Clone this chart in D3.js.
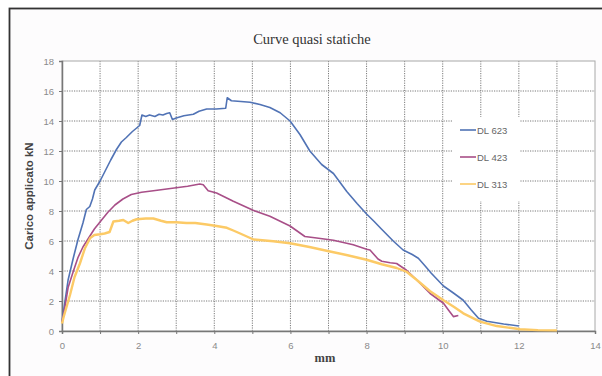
<!DOCTYPE html>
<html>
<head>
<meta charset="utf-8">
<script src="https://cdn.jsdelivr.net/npm/d3@7"></script>
<style>
  body { margin: 0; background: #fff; }
  svg { display: block; }
</style>
</head>
<body>
<svg id="chart" width="602" height="376"></svg>
<script>
// series data: [mm, kN]
const dl623 = [[0,0.6],[0.05,1.5],[0.16,3.4],[0.3,4.9],[0.42,6.1],[0.55,7.2],[0.64,8.1],[0.73,8.3],[0.8,8.8],[0.86,9.4],[1.0,10.0],[1.12,10.6],[1.28,11.4],[1.43,12.1],[1.56,12.6],[1.69,12.9],[1.85,13.3],[2.04,13.7],[2.1,14.4],[2.2,14.3],[2.3,14.4],[2.44,14.3],[2.55,14.45],[2.65,14.4],[2.75,14.5],[2.83,14.55],[2.9,14.1],[3.0,14.2],[3.2,14.35],[3.45,14.45],[3.6,14.65],[3.8,14.8],[4.05,14.8],[4.3,14.85],[4.34,15.55],[4.45,15.35],[4.7,15.3],[4.94,15.25],[5.2,15.1],[5.46,14.9],[5.73,14.55],[5.99,14.0],[6.25,13.1],[6.51,12.0],[6.82,11.1],[7.13,10.5],[7.48,9.3],[7.75,8.5],[8.0,7.8],[8.2,7.3],[8.39,6.8],[8.7,6.0],[8.96,5.4],[9.2,5.1],[9.36,4.85],[9.55,4.3],[9.7,3.85],[10.02,3.0],[10.3,2.5],[10.54,2.05],[10.75,1.4],[10.94,0.85],[11.16,0.65],[11.6,0.47],[12.0,0.33]];
const dl423 = [[0,0.6],[0.05,1.2],[0.16,2.9],[0.3,4.0],[0.42,4.9],[0.55,5.6],[0.7,6.2],[0.85,6.8],[1.04,7.4],[1.2,7.9],[1.39,8.4],[1.6,8.8],[1.82,9.1],[2.09,9.25],[2.4,9.35],[2.7,9.45],[3.0,9.55],[3.3,9.65],[3.62,9.8],[3.71,9.75],[3.84,9.35],[4.06,9.2],[4.3,8.9],[4.5,8.65],[5.02,8.05],[5.46,7.65],[5.99,7.0],[6.38,6.3],[6.69,6.2],[7.13,6.05],[7.65,5.75],[8.0,5.45],[8.09,5.4],[8.3,4.8],[8.4,4.65],[8.62,4.55],[8.79,4.5],[9.05,4.05],[9.32,3.4],[9.67,2.5],[10.02,1.85],[10.15,1.4],[10.28,0.96],[10.41,1.03]];
const dl313 = [[0,0.5],[0.05,1.0],[0.21,2.4],[0.33,3.6],[0.47,4.5],[0.6,5.5],[0.74,6.2],[0.85,6.4],[1.0,6.45],[1.12,6.5],[1.25,6.6],[1.35,7.3],[1.5,7.35],[1.61,7.4],[1.74,7.2],[1.85,7.35],[1.96,7.45],[2.2,7.5],[2.4,7.5],[2.6,7.35],[2.75,7.25],[3.0,7.25],[3.27,7.2],[3.5,7.2],[3.8,7.1],[4.06,7.0],[4.33,6.88],[4.5,6.7],[4.68,6.5],[5.03,6.1],[5.55,5.98],[5.99,5.85],[6.5,5.6],[7.04,5.3],[7.5,5.05],[8.0,4.75],[8.4,4.45],[8.79,4.2],[9.05,3.95],[9.32,3.4],[9.67,2.65],[10.02,2.05],[10.3,1.6],[10.54,1.18],[10.98,0.63],[11.42,0.33],[12.03,0.12],[12.5,0.06],[13.0,0.04]];

const seriesNames = ["DL 623", "DL 423", "DL 313"];
const seriesColors = ["#5173b5", "#a84f88", "#fcca66"];
const seriesWidths = [1.6, 1.6, 2.4];
const xTicks = [0, 2, 4, 6, 8, 10, 12, 14];
const yTicks = [0, 2, 4, 6, 8, 10, 12, 14, 16, 18];

const svg = d3.select("#chart");
const plot = { left: 62, right: 595, top: 61, bottom: 331 };

// outer frame
svg.append("rect")
  .attr("x", 9.5).attr("y", 8.5)
  .attr("width", 620).attr("height", 400)
  .attr("fill", "#fdfcfd")
  .attr("stroke", "#333")
  .attr("stroke-width", 1.8);

const x = d3.scaleLinear().domain([0, 14]).range([plot.left, plot.right]);
const y = d3.scaleLinear().domain([0, 18]).range([plot.bottom, plot.top]);

// plot background
svg.append("rect")
  .attr("x", plot.left).attr("y", plot.top)
  .attr("width", plot.right - plot.left)
  .attr("height", plot.bottom - plot.top)
  .attr("fill", "#fff");

// dotted grid
svg.append("g")
  .selectAll("line")
  .data(d3.range(1, 14))
  .join("line")
  .attr("x1", (d) => x(d)).attr("x2", (d) => x(d))
  .attr("y1", plot.top).attr("y2", plot.bottom)
  .attr("stroke", "#7a7a7a")
  .attr("stroke-dasharray", "1.2,1.2");

svg.append("g")
  .selectAll("line")
  .data(yTicks.slice(1, -1))
  .join("line")
  .attr("x1", plot.left).attr("x2", plot.right)
  .attr("y1", (d) => y(d)).attr("y2", (d) => y(d))
  .attr("stroke", "#7a7a7a")
  .attr("stroke-dasharray", "1.2,1.2");

// plot border
svg.append("rect")
  .attr("x", plot.left).attr("y", plot.top)
  .attr("width", plot.right - plot.left)
  .attr("height", plot.bottom - plot.top)
  .attr("fill", "none")
  .attr("stroke", "#a8a8a8");

// axes
const xAxis = svg.append("g")
  .attr("transform", `translate(0,${plot.bottom})`)
  .call(d3.axisBottom(x).tickValues(d3.range(0, 15)).tickSize(3)
    .tickFormat((d) => (xTicks.includes(d) ? d : "")));
const yAxis = svg.append("g")
  .attr("transform", `translate(${plot.left},0)`)
  .call(d3.axisLeft(y).tickValues(yTicks).tickSize(3).tickPadding(5));

[xAxis, yAxis].forEach((a) => {
  a.select(".domain").attr("stroke", "#777").attr("stroke-width", 1.5);
  a.selectAll(".tick line").attr("stroke", "#777");
  a.selectAll("text")
    .attr("fill", "#8a8a8a")
    .attr("font-family", "Liberation Sans, Arial, sans-serif")
    .attr("font-size", 9.5);
});
xAxis.selectAll("text").attr("dy", "1.3em");

// curves
const line = d3.line().x((d) => x(d[0])).y((d) => y(d[1]));
[dl623, dl423, dl313].forEach((s, i) => {
  svg.append("path")
    .datum(s)
    .attr("fill", "none")
    .attr("stroke", seriesColors[i])
    .attr("stroke-width", seriesWidths[i])
    .attr("stroke-linejoin", "round")
    .attr("d", line);
});

// legend
const legend = svg.append("g").attr("transform", "translate(452,117)");
legend.append("rect")
  .attr("width", 68).attr("height", 84)
  .attr("fill", "#fff");
seriesNames.forEach((name, i) => {
  const row = legend.append("g").attr("transform", `translate(0,${13 + i * 27})`);
  row.append("line")
    .attr("x1", 8).attr("x2", 24)
    .attr("stroke", seriesColors[i])
    .attr("stroke-width", 1.6);
  row.append("text")
    .attr("x", 25).attr("y", 3.5)
    .attr("fill", "#666")
    .attr("font-family", "Liberation Sans, Arial, sans-serif")
    .attr("font-size", 9.5)
    .text(name);
});

// titles
svg.append("text")
  .attr("x", 312).attr("y", 44)
  .attr("text-anchor", "middle")
  .attr("font-family", "Liberation Serif, Times New Roman, serif")
  .attr("font-size", 14.5)
  .attr("fill", "#333")
  .text("Curve quasi statiche");

svg.append("text")
  .attr("x", 325).attr("y", 362)
  .attr("text-anchor", "middle")
  .attr("font-family", "Liberation Serif, Times New Roman, serif")
  .attr("font-weight", "bold")
  .attr("font-size", 12.5)
  .attr("fill", "#444")
  .text("mm");

svg.append("text")
  .attr("transform", `translate(33,${(plot.top + plot.bottom) / 2}) rotate(-90)`)
  .attr("text-anchor", "middle")
  .attr("font-family", "Liberation Sans, Arial, sans-serif")
  .attr("font-weight", "bold")
  .attr("font-size", 11.5)
  .attr("fill", "#444")
  .text("Carico applicato kN");
</script>
</body>
</html>
